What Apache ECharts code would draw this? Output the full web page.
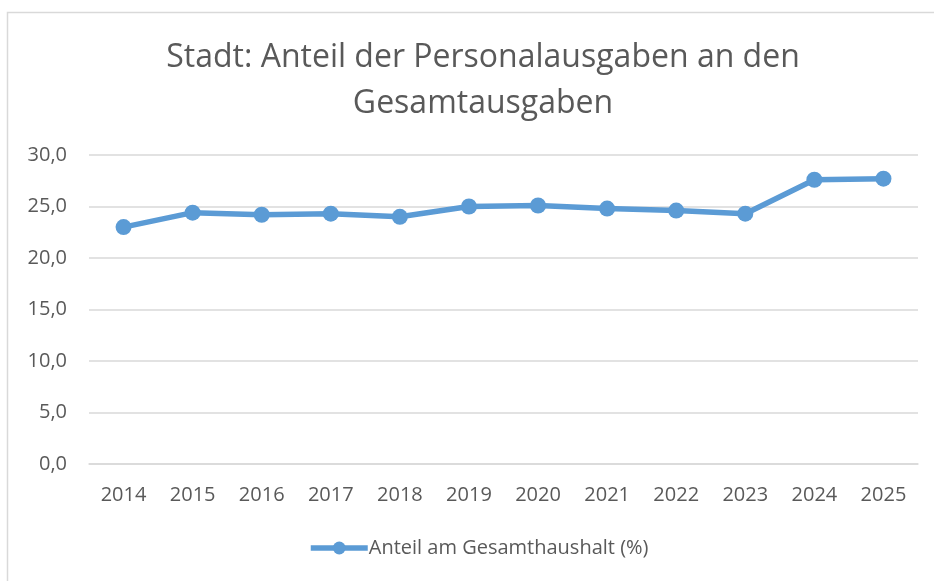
<!DOCTYPE html>
<html>
<head>
<meta charset="utf-8">
<script src="https://cdn.jsdelivr.net/npm/echarts@6/dist/echarts.min.js"></script>
<style>
  html, body { margin: 0; padding: 0; background: #fff; }
  #chart { width: 934px; height: 581px; }
</style>
</head>
<body>
<div id="chart"></div>
<script>
var years = ["2014", "2015", "2016", "2017", "2018", "2019", "2020", "2021", "2022", "2023", "2024", "2025"];
var anteil = [23.0, 24.4, 24.2, 24.3, 24.0, 25.0, 25.1, 24.8, 24.6, 24.3, 27.6, 27.7];
var seriesName = "Anteil am Gesamthaushalt (%)";
var titleText = "Stadt: Anteil der Personalausgaben an den\nGesamtausgaben";

var chart = echarts.init(document.getElementById("chart"));

var option = {
  animation: false,
  textStyle: { fontFamily: "Open Sans" },
  graphic: [
    {
      type: "rect",
      shape: { x: 7.5, y: 12.5, width: 1000, height: 700 },
      style: { fill: "none", stroke: "#d9d9d9", lineWidth: 1.5 },
      silent: true
    }
  ],
  title: {
    text: titleText,
    left: 478,
    top: 30,
    textAlign: "center",
    textStyle: {
      color: "#595959",
      fontSize: 32,
      fontWeight: "normal",
      lineHeight: 46,
      fontFamily: "Open Sans"
    }
  },
  legend: {
    bottom: 18,
    left: 303,
    itemWidth: 57,
    itemHeight: 16,
    itemGap: 0,
    lineStyle: { width: 5.5 },
    textStyle: { color: "#595959", fontSize: 20, padding: [0, 0, 0, -4] },
    data: [seriesName]
  },
  grid: {
    left: 89,
    right: 16,
    top: 155,
    bottom: 117
  },
  xAxis: {
    type: "category",
    data: years,
    boundaryGap: true,
    axisLine: { show: true, lineStyle: { color: "#d9d9d9", width: 1.5 } },
    axisTick: { show: false },
    axisLabel: { color: "#595959", fontSize: 20, margin: 21 }
  },
  yAxis: {
    type: "value",
    min: 0,
    max: 30,
    interval: 5,
    axisLine: { show: false },
    axisTick: { show: false },
    axisLabel: {
      color: "#595959",
      fontSize: 20,
      margin: 22,
      formatter: function (v) { return v.toFixed(1).replace(".", ","); }
    },
    splitLine: { lineStyle: { color: "#d9d9d9", width: 1.5 } }
  },
  series: [
    {
      name: seriesName,
      type: "line",
      data: anteil,
      symbol: "circle",
      symbolSize: 16,
      itemStyle: { color: "#5b9bd5" },
      lineStyle: { color: "#5b9bd5", width: 5.5 }
    }
  ]
};

chart.setOption(option);
</script>
</body>
</html>
